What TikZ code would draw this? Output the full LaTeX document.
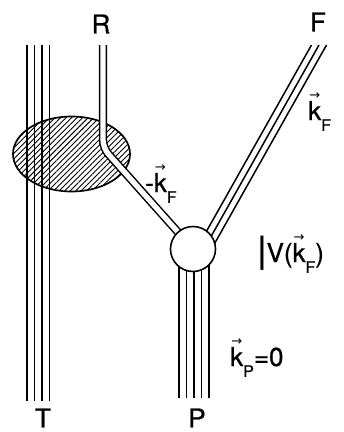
\documentclass[tikz,border=0pt]{standalone}
\usepackage{fontspec}
\setmainfont{TeX Gyre Heros}[FakeBold=0.8]
\newfontfamily\dv{DejaVu Sans}
\usetikzlibrary{patterns.meta}
\newcommand\vk{\leavevmode\rlap{\makebox[0.5em][c]{\raisebox{0.78em}{\fontsize{13}{13}\selectfont\dv →}}}k}
\newcommand\lowsub[1]{\raisebox{-0.42em}{\fontsize{16}{16}\selectfont #1}}
\begin{document}
\begin{tikzpicture}[x=1pt,y=-1pt,
  lbl/.style={font=\fontsize{26}{26}\selectfont, inner sep=0pt},
  strand/.style={line width=1.5pt},
  pair/.style={double, double distance=5.3pt, line width=1.5pt, rounded corners=8pt},
  vertex/.style={draw, circle, fill=white, line width=1.6pt, minimum size=45pt, inner sep=0pt}]
\useasboundingbox (0,0) rectangle (344,432);
\coordinate (blob) at (71.5,154);
\coordinate (vc) at (193,249);
% hatched blob
\path[pattern={Lines[angle=45,distance=3.9pt,line width=0.9pt]}] (blob) ellipse [x radius=58.5pt, y radius=37.5pt];
\draw[line width=1.7pt] (blob) ellipse [x radius=58.5pt, y radius=37.5pt];
% T strands
\foreach \x [count=\i] in {27,34.5,42,49.5} {
  \coordinate (t\i a) at (\x,45);
  \coordinate (t\i b) at (\x,401);
  \draw[strand] (t\i a) -- (t\i b);
}
% R pair
\coordinate (ra) at (103,45);
\coordinate (rb) at (103,148);
\draw[pair] (ra) -- (rb) -- (vc);
% F strands
\foreach \d [count=\i] in {-7.5,0,7.5} {
  \coordinate (f\i a) at (319+\d,45);
  \coordinate (f\i b) at (204+\d,249);
  \draw[strand] (f\i a) -- (f\i b);
}
% P strands
\foreach \x [count=\i] in {179,186.5,194,201.5,209} {
  \coordinate (p\i a) at (\x,249);
  \coordinate (p\i b) at (\x,398);
  \draw[strand] (p\i a) -- (p\i b);
}
\node[vertex] (v) at (vc) {};
% labels
\node[lbl] (R) at (101,24) {R};
\node[lbl] (F) at (318,22) {F};
\node[lbl] (T) at (43,418) {T};
\node[lbl] (P) at (197,418) {P};
\node[lbl, anchor=base west] (kneg) at (145,192) {-\vk\lowsub{F}};
\node[lbl, anchor=base west] (kF) at (308,120) {\vk\lowsub{F}};
\node[lbl, anchor=base west] (V) at (257,262) {{\fontsize{36}{36}\selectfont|}V(\vk\lowsub{F})};
\node[lbl, anchor=base west] (kP) at (230,366) {\vk\lowsub{P}=0};
\end{tikzpicture}
\end{document}
